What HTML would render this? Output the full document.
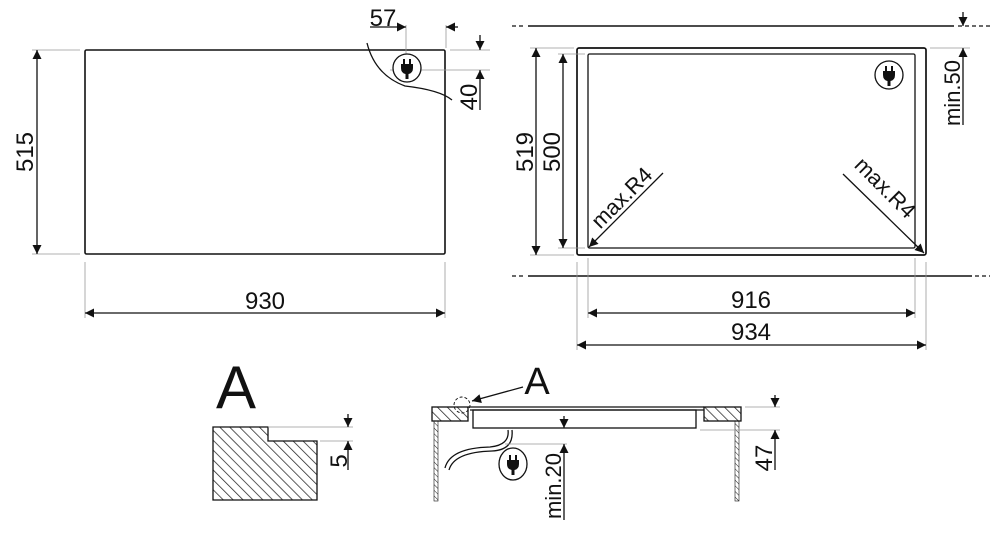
<!DOCTYPE html>
<html><head><meta charset="utf-8"><style>html,body{margin:0;padding:0;background:#fff}svg{display:block}text{font-family:"Liberation Sans",sans-serif;fill:#111}</style></head><body>
<svg width="1000" height="538" viewBox="0 0 1000 538" xmlns="http://www.w3.org/2000/svg">
<defs>
<marker id="a" viewBox="0 0 10 10" refX="10" refY="5" markerWidth="13" markerHeight="9" markerUnits="userSpaceOnUse" orient="auto-start-reverse"><path d="M0,0 L10,5 L0,10 z" fill="#111"/></marker>
<pattern id="h" width="7" height="7" patternUnits="userSpaceOnUse" patternTransform="rotate(-45)"><line x1="0" y1="0" x2="0" y2="7" stroke="#222" stroke-width="1.5"/></pattern>
<pattern id="hs" width="4" height="4" patternUnits="userSpaceOnUse" patternTransform="rotate(-45)"><line x1="0" y1="0" x2="0" y2="4" stroke="#222" stroke-width="1"/></pattern>
<g id="plug"><circle r="14" fill="#fff" stroke="#111" stroke-width="1.3"/><rect x="-4" y="-9" width="2" height="5" fill="#111"/><rect x="2" y="-9" width="2" height="5" fill="#111"/><path d="M-6,-4 H6 V0 Q6,5 1.5,6 V11 H-1.5 V6 Q-6,5 -6,0 Z" fill="#111"/></g>
</defs>
<g stroke="#111" fill="none" stroke-width="1.3">
<rect x="85" y="50" width="360" height="204" rx="1.5" stroke-width="1.6"/>
<g stroke="#999" stroke-width="0.8">
<line x1="32" y1="50" x2="80" y2="50"/><line x1="32" y1="254" x2="80" y2="254"/>
<line x1="85" y1="262" x2="85" y2="318"/><line x1="445" y1="262" x2="445" y2="318"/>
<line x1="406" y1="25" x2="406" y2="70"/><line x1="446" y1="25" x2="446" y2="48"/>
<line x1="450" y1="50" x2="490" y2="50"/><line x1="390" y1="70" x2="490" y2="70"/>
</g>
<line x1="37" y1="50" x2="37" y2="254" marker-start="url(#a)" marker-end="url(#a)"/>
<line x1="85" y1="313" x2="445" y2="313" marker-start="url(#a)" marker-end="url(#a)"/>
<line x1="370" y1="27" x2="406" y2="27" marker-end="url(#a)"/>
<line x1="458" y1="27" x2="446" y2="27" marker-end="url(#a)"/>
<line x1="480" y1="35" x2="480" y2="50" marker-end="url(#a)"/>
<line x1="480" y1="110" x2="480" y2="70" marker-end="url(#a)"/>
<path d="M367,43 Q375,75 405,86 Q440,90 452,100"/>
</g>
<use href="#plug" x="407" y="68"/>
<text x="383" y="26" font-size="24" text-anchor="middle">57</text>
<text x="265" y="309" font-size="24" text-anchor="middle">930</text>
<text transform="translate(33,152) rotate(-90)" font-size="24" text-anchor="middle">515</text>
<text transform="translate(477,97) rotate(-90)" font-size="24" text-anchor="middle">40</text>

<g stroke="#111" fill="none" stroke-width="1.3">
<line x1="528" y1="26" x2="954" y2="26" stroke-width="1.6"/>
<line x1="512" y1="26" x2="524" y2="26" stroke-dasharray="4,3"/><line x1="958" y1="26" x2="990" y2="26" stroke-dasharray="4,3"/>
<line x1="528" y1="276" x2="972" y2="276" stroke-width="1.6"/>
<line x1="512" y1="276" x2="524" y2="276" stroke-dasharray="4,3"/><line x1="975" y1="276" x2="990" y2="276" stroke-dasharray="4,3"/>
<rect x="577" y="48" width="349" height="207" rx="2" stroke-width="1.7"/>
<rect x="588" y="54" width="327" height="194" rx="1.5"/>
<g stroke="#999" stroke-width="0.8">
<line x1="530" y1="48" x2="574" y2="48"/><line x1="530" y1="255" x2="574" y2="255"/>
<line x1="558" y1="54" x2="585" y2="54"/><line x1="558" y1="248" x2="585" y2="248"/>
<line x1="577" y1="262" x2="577" y2="350"/><line x1="926" y1="262" x2="926" y2="350"/>
<line x1="588" y1="258" x2="588" y2="318"/><line x1="915" y1="258" x2="915" y2="318"/>
<line x1="930" y1="48" x2="970" y2="48"/>
</g>
<line x1="536" y1="48" x2="536" y2="255" marker-start="url(#a)" marker-end="url(#a)"/>
<line x1="563" y1="54" x2="563" y2="248" marker-start="url(#a)" marker-end="url(#a)"/>
<line x1="588" y1="313" x2="915" y2="313" marker-start="url(#a)" marker-end="url(#a)"/>
<line x1="577" y1="345" x2="926" y2="345" marker-start="url(#a)" marker-end="url(#a)"/>
<line x1="963" y1="12" x2="963" y2="26" marker-end="url(#a)"/>
<line x1="963" y1="125" x2="963" y2="48" marker-end="url(#a)"/>
<line x1="663" y1="173" x2="589" y2="247" marker-end="url(#a)"/>
<line x1="843" y1="174" x2="924" y2="253" marker-end="url(#a)"/>
</g>
<use href="#plug" x="889" y="75"/>
<text x="751" y="308" font-size="24" text-anchor="middle">916</text>
<text x="751" y="340" font-size="24" text-anchor="middle">934</text>
<text transform="translate(533,152) rotate(-90)" font-size="24" text-anchor="middle">519</text>
<text transform="translate(560,152) rotate(-90)" font-size="24" text-anchor="middle">500</text>
<text transform="translate(960,93) rotate(-90)" font-size="22" text-anchor="middle">min.50</text>
<text transform="translate(627,203) rotate(-45)" font-size="22" text-anchor="middle">max.R4</text>
<text transform="translate(880,193) rotate(45)" font-size="22" text-anchor="middle">max.R4</text>

<text x="236" y="408" font-size="60" text-anchor="middle">A</text>
<path d="M213,427 H268 V441 H317 V500 H213 Z" fill="url(#h)" stroke="#111" stroke-width="1.3"/>
<g stroke="#999" stroke-width="0.8"><line x1="268" y1="427" x2="353" y2="427"/><line x1="320" y1="441" x2="353" y2="441"/></g>
<g stroke="#111" stroke-width="1.3">
<line x1="348" y1="414" x2="348" y2="427" marker-end="url(#a)"/>
<line x1="348" y1="470" x2="348" y2="441" marker-end="url(#a)"/>
</g>
<text transform="translate(347,461) rotate(-90)" font-size="24" text-anchor="middle">5</text>

<g stroke="#111" fill="none" stroke-width="1.3">
<rect x="432" y="407" width="36" height="14" fill="url(#h)"/>
<rect x="704" y="407" width="37" height="14" fill="url(#h)"/>
<rect x="434" y="421" width="4" height="80" fill="url(#hs)" stroke-width="0.6"/>
<rect x="735" y="421" width="4" height="80" fill="url(#hs)" stroke-width="0.6"/>
<line x1="468" y1="407" x2="704" y2="407"/>
<line x1="470" y1="410" x2="704" y2="410"/>
<rect x="473" y="410" width="223" height="18"/>
<circle cx="462" cy="405" r="8" stroke-dasharray="3,2" stroke-width="0.9"/>
<line x1="523" y1="387" x2="472" y2="401" marker-end="url(#a)"/>
<path d="M508,430 Q510,445 490,447 Q450,448 445,468"/>
<path d="M512,430 Q514,450 492,451 Q454,452 449,470"/>
<g stroke="#999" stroke-width="0.8"><line x1="505" y1="444" x2="567" y2="444"/><line x1="745" y1="407" x2="780" y2="407"/><line x1="700" y1="430" x2="780" y2="430"/></g>
<line x1="564" y1="416" x2="564" y2="428" marker-end="url(#a)"/>
<line x1="564" y1="520" x2="564" y2="444" marker-end="url(#a)"/>
<line x1="775" y1="395" x2="775" y2="407" marker-end="url(#a)"/>
<line x1="775" y1="470" x2="775" y2="430" marker-end="url(#a)"/>
</g>
<g transform="translate(513,464)"><ellipse rx="14" ry="16" fill="#fff" stroke="#111" stroke-width="1.3"/><rect x="-4" y="-9" width="2" height="5" fill="#111"/><rect x="2" y="-9" width="2" height="5" fill="#111"/><path d="M-6,-4 H6 V0 Q6,5 1.5,6 V11 H-1.5 V6 Q-6,5 -6,0 Z" fill="#111"/></g>
<text x="537" y="394" font-size="38" text-anchor="middle">A</text>
<text transform="translate(561,486) rotate(-90)" font-size="22" text-anchor="middle">min.20</text>
<text transform="translate(772,458) rotate(-90)" font-size="24" text-anchor="middle">47</text>
</svg>
</body></html>
